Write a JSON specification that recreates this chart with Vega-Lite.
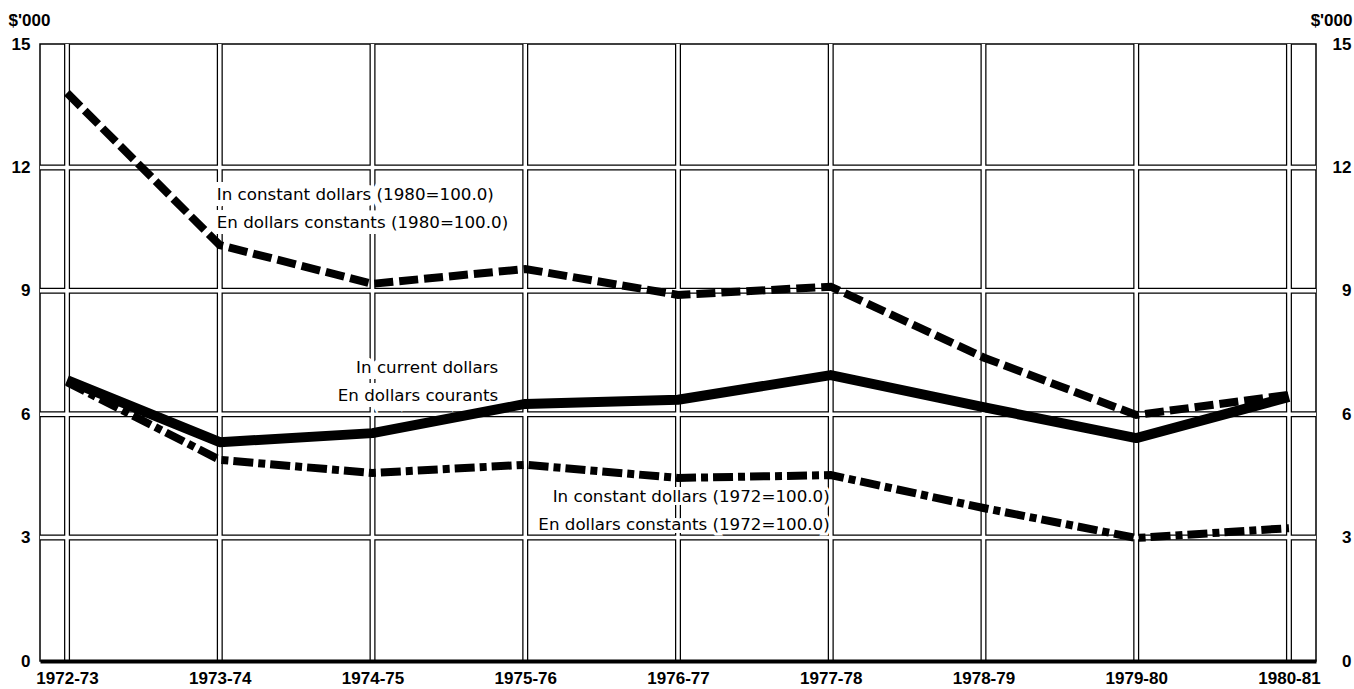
{
  "$schema": "https://vega.github.io/schema/vega-lite/v6.json",
  "autosize": "none",
  "width": 1276,
  "height": 617,
  "padding": {"left": 40, "top": 44, "right": 38, "bottom": 28},
  "background": "white",
  "config": {
    "view": {"stroke": "black", "strokeWidth": 1.5},
    "font": "DejaVu Sans",
    "axis": {"labelColor": "black", "titleColor": "black", "labelFont": "Liberation Sans", "titleFont": "Liberation Sans", "labelFontWeight": "bold", "titleFontWeight": "bold", "labelFontSize": 17, "titleFontSize": 17}
  },
  "datasets": {
    "series": [
      {"year": "1972-73", "series": "current", "value": 6.83},
      {"year": "1973-74", "series": "current", "value": 5.32},
      {"year": "1974-75", "series": "current", "value": 5.54},
      {"year": "1975-76", "series": "current", "value": 6.25},
      {"year": "1976-77", "series": "current", "value": 6.35},
      {"year": "1977-78", "series": "current", "value": 6.95},
      {"year": "1978-79", "series": "current", "value": 6.17},
      {"year": "1979-80", "series": "current", "value": 5.42},
      {"year": "1980-81", "series": "current", "value": 6.42},
      {"year": "1972-73", "series": "c1980", "value": 13.81},
      {"year": "1973-74", "series": "c1980", "value": 10.11},
      {"year": "1974-75", "series": "c1980", "value": 9.17},
      {"year": "1975-76", "series": "c1980", "value": 9.53},
      {"year": "1976-77", "series": "c1980", "value": 8.9},
      {"year": "1977-78", "series": "c1980", "value": 9.1},
      {"year": "1978-79", "series": "c1980", "value": 7.38},
      {"year": "1979-80", "series": "c1980", "value": 5.98},
      {"year": "1980-81", "series": "c1980", "value": 6.47},
      {"year": "1972-73", "series": "c1972", "value": 6.78},
      {"year": "1973-74", "series": "c1972", "value": 4.89},
      {"year": "1974-75", "series": "c1972", "value": 4.57},
      {"year": "1975-76", "series": "c1972", "value": 4.77},
      {"year": "1976-77", "series": "c1972", "value": 4.45},
      {"year": "1977-78", "series": "c1972", "value": 4.52},
      {"year": "1978-79", "series": "c1972", "value": 3.72},
      {"year": "1979-80", "series": "c1972", "value": 2.99},
      {"year": "1980-81", "series": "c1972", "value": 3.23}
    ],
    "gridx": [
      {"year": "1972-73"}, {"year": "1973-74"}, {"year": "1974-75"}, {"year": "1975-76"}, {"year": "1976-77"},
      {"year": "1977-78"}, {"year": "1978-79"}, {"year": "1979-80"}, {"year": "1980-81"}
    ],
    "gridy": [{"value": 3}, {"value": 6}, {"value": 9}, {"value": 12}],
    "notes": [
      {"series": "c1980", "year": "1973-74", "value": 11.33, "text": "In constant dollars (1980=100.0)"},
      {"series": "c1980", "year": "1973-74", "value": 10.65, "text": "En dollars constants (1980=100.0)"},
      {"series": "current", "year": "1975-76", "value": 7.12, "text": "In current dollars"},
      {"series": "current", "year": "1975-76", "value": 6.44, "text": "En dollars courants"},
      {"series": "c1972", "year": "1977-78", "value": 3.99, "text": "In constant dollars (1972=100.0)"},
      {"series": "c1972", "year": "1977-78", "value": 3.31, "text": "En dollars constants (1972=100.0)"}
    ]
  },
  "resolve": {"axis": {"y": "independent"}},
  "layer": [
    {
      "data": {"name": "gridx"},
      "mark": {"type": "rule", "stroke": "black", "strokeWidth": 6},
      "encoding": {
        "x": {"field": "year", "type": "ordinal", "scale": {"type": "point", "padding": 0.177}, "axis": {
          "title": null, "labelAngle": 0, "ticks": false, "domain": true, "domainColor": "black", "domainWidth": 4,
          "labelPadding": 9, "grid": false, "zindex": 1
        }}
      }
    },
    {
      "data": {"name": "gridy"},
      "mark": {"type": "rule", "stroke": "black", "strokeWidth": 6},
      "encoding": {
        "y": {"field": "value", "type": "quantitative", "scale": {"domain": [0, 15], "nice": false}, "axis": {
          "orient": "left", "values": [0, 3, 6, 9, 12, 15], "labelPadding": 10, "ticks": false, "domain": false, "grid": false,
          "title": "$'000", "titleAngle": 0, "titleAlign": "left", "titleBaseline": "alphabetic", "titleX": -32, "titleY": -19
        }}
      }
    },
    {
      "data": {"name": "gridx"},
      "mark": {"type": "rule", "stroke": "white", "strokeWidth": 3.5},
      "encoding": {
        "x": {"field": "year", "type": "ordinal"}
      }
    },
    {
      "data": {"name": "gridy"},
      "mark": {"type": "rule", "stroke": "white", "strokeWidth": 3.5},
      "encoding": {
        "y": {"field": "value", "type": "quantitative", "axis": {
          "orient": "right", "values": [0, 3, 6, 9, 12, 15], "labelAlign": "right", "labelPadding": 35,
          "ticks": false, "domain": false, "grid": false,
          "title": "$'000", "titleAngle": 0, "titleAlign": "right", "titleBaseline": "alphabetic", "titleX": 36, "titleY": -19
        }}
      }
    },
    {
      "data": {"name": "notes"},
      "transform": [{"filter": "datum.series === 'c1980'"}],
      "mark": {"type": "text", "align": "left", "baseline": "middle", "dx": -3, "fontSize": 16.7, "stroke": "white", "strokeWidth": 12, "fill": "white"},
      "encoding": {
        "x": {"field": "year", "type": "ordinal"},
        "y": {"field": "value", "type": "quantitative", "axis": null},
        "text": {"field": "text"}
      }
    },
    {
      "data": {"name": "notes"},
      "transform": [{"filter": "datum.series === 'current'"}],
      "mark": {"type": "text", "align": "right", "baseline": "middle", "dx": -27, "fontSize": 16.7, "stroke": "white", "strokeWidth": 12, "fill": "white"},
      "encoding": {
        "x": {"field": "year", "type": "ordinal"},
        "y": {"field": "value", "type": "quantitative", "axis": null},
        "text": {"field": "text"}
      }
    },
    {
      "data": {"name": "notes"},
      "transform": [{"filter": "datum.series === 'c1972'"}],
      "mark": {"type": "text", "align": "right", "baseline": "middle", "dx": -1, "fontSize": 16.7, "stroke": "white", "strokeWidth": 6, "fill": "white"},
      "encoding": {
        "x": {"field": "year", "type": "ordinal"},
        "y": {"field": "value", "type": "quantitative", "axis": null},
        "text": {"field": "text"}
      }
    },
    {
      "data": {"name": "series"},
      "transform": [{"filter": "datum.series === 'current'"}],
      "mark": {"type": "line", "stroke": "black", "strokeWidth": 10, "strokeJoin": "round"},
      "encoding": {
        "x": {"field": "year", "type": "ordinal"},
        "y": {"field": "value", "type": "quantitative", "axis": null}
      }
    },
    {
      "data": {"name": "series"},
      "transform": [{"filter": "datum.series === 'c1980'"}],
      "mark": {"type": "line", "stroke": "black", "strokeWidth": 8, "strokeDash": [19, 6], "strokeCap": "butt"},
      "encoding": {
        "x": {"field": "year", "type": "ordinal"},
        "y": {"field": "value", "type": "quantitative", "axis": null}
      }
    },
    {
      "data": {"name": "series"},
      "transform": [{"filter": "datum.series === 'c1972'"}],
      "mark": {"type": "line", "stroke": "black", "strokeWidth": 8, "strokeDash": [20, 5, 7, 5], "strokeCap": "butt"},
      "encoding": {
        "x": {"field": "year", "type": "ordinal"},
        "y": {"field": "value", "type": "quantitative", "axis": null}
      }
    },
    {
      "data": {"name": "notes"},
      "transform": [{"filter": "datum.series === 'c1980'"}],
      "mark": {"type": "text", "align": "left", "baseline": "middle", "dx": -3, "fontSize": 16.7, "fill": "black"},
      "encoding": {
        "x": {"field": "year", "type": "ordinal"},
        "y": {"field": "value", "type": "quantitative", "axis": null},
        "text": {"field": "text"}
      }
    },
    {
      "data": {"name": "notes"},
      "transform": [{"filter": "datum.series === 'current'"}],
      "mark": {"type": "text", "align": "right", "baseline": "middle", "dx": -27, "fontSize": 16.7, "fill": "black"},
      "encoding": {
        "x": {"field": "year", "type": "ordinal"},
        "y": {"field": "value", "type": "quantitative", "axis": null},
        "text": {"field": "text"}
      }
    },
    {
      "data": {"name": "notes"},
      "transform": [{"filter": "datum.series === 'c1972'"}],
      "mark": {"type": "text", "align": "right", "baseline": "middle", "dx": -1, "fontSize": 16.7, "fill": "black"},
      "encoding": {
        "x": {"field": "year", "type": "ordinal"},
        "y": {"field": "value", "type": "quantitative", "axis": null},
        "text": {"field": "text"}
      }
    }
  ]
}
